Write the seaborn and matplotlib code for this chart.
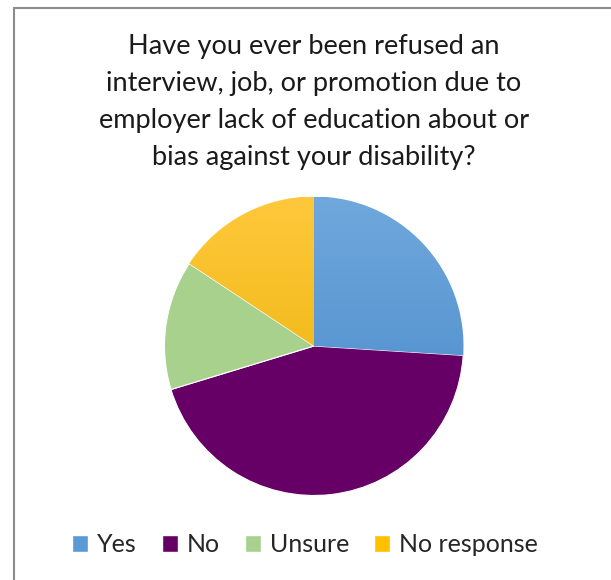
import matplotlib
matplotlib.use("Agg")
import matplotlib.pyplot as plt
import seaborn as sns
import numpy as np
from matplotlib.patches import Rectangle, Patch
from matplotlib.colors import LinearSegmentedColormap

categories = ["Yes", "No", "Unsure", "No response"]
values = [26, 44.3, 14, 15.7]
colors = ["#5b9bd5", "#660066", "#a9d18e", "#ffc000"]
gradients = {
    0: ("#6fa8dc", "#4686c8"),
    3: ("#ffc83c", "#e6b000"),
}
title = ("Have you ever been refused an\ninterview, job, or promotion due to\n"
         "employer lack of education about or\nbias against your disability?")

sns.set_theme(style="white")
plt.rcParams['font.family'] = ['Lato', 'DejaVu Sans']

W, H = 611, 580
fig = plt.figure(figsize=(W / 100, H / 100), dpi=100)

# chart border (left and top visible)
fig.patches.append(Rectangle((13.5 / W, -0.1), 1.2, 1 - 7.5 / H + 0.1,
                             transform=fig.transFigure, fill=False,
                             edgecolor="#8c8c8c", linewidth=1.5))

cx, cy, r = 314, 346, 149.5
ax = fig.add_axes([(cx - r) / W, (H - cy - r) / H, 2 * r / W, 2 * r / H])
wedges, _ = ax.pie(values, colors=colors, startangle=90, counterclock=False,
                   radius=1, wedgeprops=dict(edgecolor="white", linewidth=0.8))
for i, (top, bot) in gradients.items():
    cmap = LinearSegmentedColormap.from_list("g%d" % i, [bot, top])
    grad = np.linspace(0, 1, 256).reshape(-1, 1)
    im = ax.imshow(grad, extent=(-1, 1, -1, 1), origin="lower", cmap=cmap,
                   aspect="auto", zorder=wedges[i].get_zorder() + 0.1)
    im.set_clip_path(wedges[i])
ax.set_xlim(-1, 1)
ax.set_ylim(-1, 1)
ax.set_aspect("equal")
ax.axis("off")

fig.text(314 / W, 1 - 102 / H, title, ha="center", va="center",
         fontsize=19.5, color="#1a1a1a", linespacing=1.6)

handles = [Patch(facecolor=c, edgecolor="white") for c in colors]
fig.legend(handles, categories, loc="center", bbox_to_anchor=(305 / W, 1 - 545 / H),
           ncol=4, frameon=False, fontsize=18, handlelength=0.65, handleheight=0.65,
           handletextpad=0.35, columnspacing=1.0, borderpad=0, borderaxespad=0)

fig.savefig("out.png", dpi=100)
